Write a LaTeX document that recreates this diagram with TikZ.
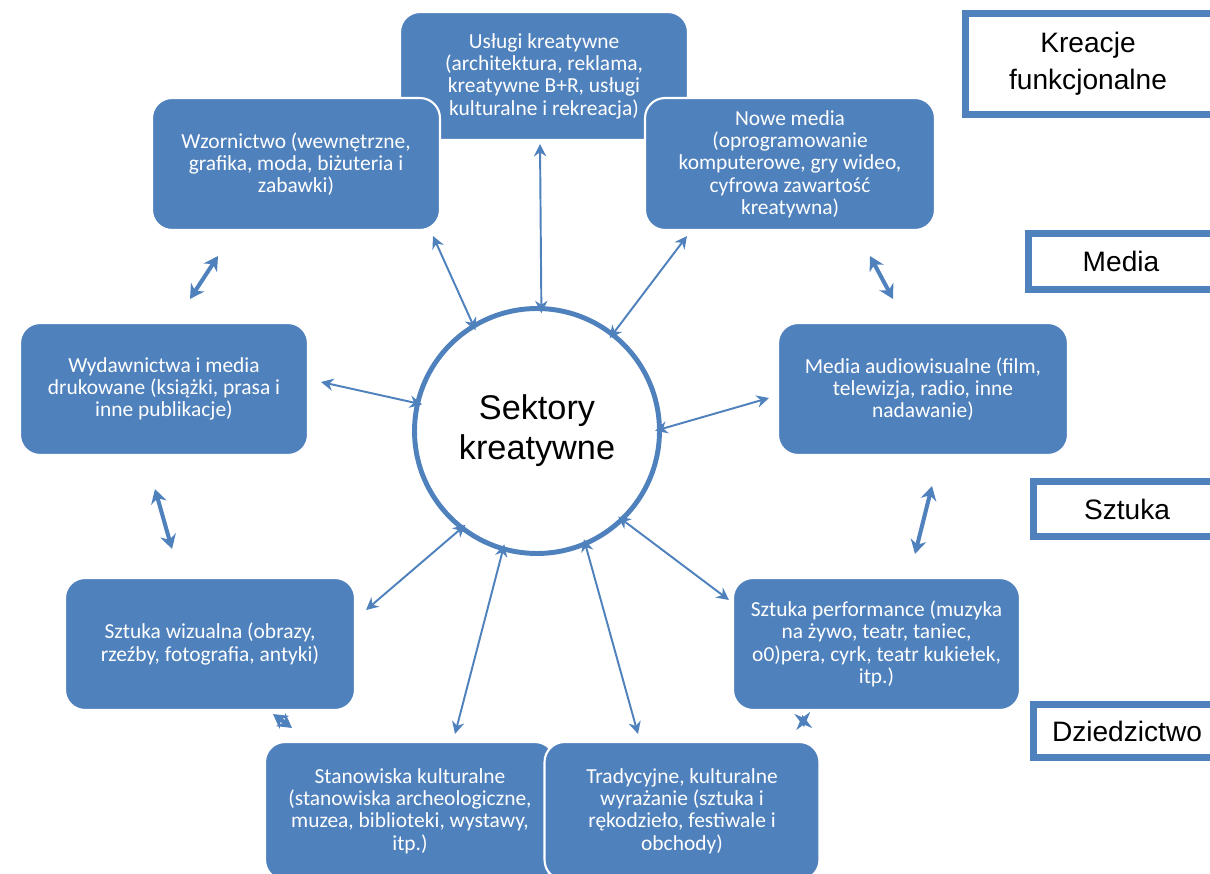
\documentclass[tikz,border=0pt]{standalone}
\usepackage{fontspec}
\setmainfont{Liberation Sans}
\newfontfamily\carlito{Carlito}
\usetikzlibrary{arrows.meta,calc}
\definecolor{boxblue}{HTML}{4F81BD}
\begin{document}
\begin{tikzpicture}[x=0.02cm,y=-0.02cm,
  bluebox/.style={rounded corners=0.4cm, fill=boxblue, draw=white, line width=1.2pt,
    text=white, align=center, inner sep=0pt,
    font=\carlito\fontsize{12.2}{12.7}\selectfont},
  labelbox/.style={draw=boxblue, fill=white, line width=3.8pt, inner sep=0pt},
  labeltext/.style={align=center, inner sep=0pt, font=\fontsize{16}{21}\selectfont},
  rarr/.style={draw=boxblue, line width=1.1pt, shorten >=-0.14cm,
    {Stealth[length=7pt,width=7pt]}-{Stealth[length=7pt,width=7pt]}},
  narr/.style={draw=boxblue, line width=2.3pt,
    {Stealth[length=8pt,width=9pt]}-{Stealth[length=8pt,width=9pt]}}]
\useasboundingbox (0,0) rectangle (1210,874);
\fill[white] (0,0) rectangle (1210,874);

% boxes
\node[bluebox, minimum width=5.76cm, minimum height=2.56cm] (usl) at (544,76)
  {Usługi kreatywne\\(architektura, reklama,\\kreatywne B+R, usługi\\kulturalne i rekreacja)};
\node[bluebox, minimum width=5.76cm, minimum height=2.64cm] (wz) at (296,164)
  {Wzornictwo (wewnętrzne,\\grafika, moda, biżuteria i\\zabawki)};
\node[bluebox, minimum width=5.8cm, minimum height=2.64cm] (nm) at (790,164)
  {Nowe media\\(oprogramowanie\\komputerowe, gry wideo,\\cyfrowa zawartość\\kreatywna)};
\node[bluebox, minimum width=5.76cm, minimum height=2.64cm] (wyd) at (164,389)
  {Wydawnictwa i media\\drukowane (książki, prasa i\\inne publikacje)};
\node[bluebox, minimum width=5.8cm, minimum height=2.64cm] (mav) at (923,389)
  {Media audiowisualne (film,\\telewizja, radio, inne\\nadawanie)};
\node[bluebox, minimum width=5.8cm, minimum height=2.64cm] (sw) at (210,644)
  {Sztuka wizualna (obrazy,\\rzeźby, fotografia, antyki)};
\node[bluebox, minimum width=5.74cm, minimum height=2.64cm] (sp) at (876.5,644)
  {Sztuka performance (muzyka\\na żywo, teatr, taniec,\\o0)pera, cyrk, teatr kukiełek,\\itp.)};
\node[bluebox, minimum width=5.8cm, minimum height=2.76cm] (st) at (410,811)
  {Stanowiska kulturalne\\(stanowiska archeologiczne,\\muzea, biblioteki, wystawy,\\itp.)};
\node[bluebox, minimum width=5.5cm, minimum height=2.76cm] (tr) at (682,811)
  {Tradycyjne, kulturalne\\wyrażanie (sztuka i\\rękodzieło, festiwale i\\obchody)};

% centre circle
\node[circle, draw=boxblue, fill=white, line width=2.8pt, minimum size=4.9cm,
  inner sep=0pt, align=center, font=\fontsize{19.5}{22.7}\selectfont] (c) at (537,431)
  {Sektory\\kreatywne};

% label boxes (right border runs off the page)
\node[labelbox, minimum width=5.29cm, minimum height=2.02cm] (kfbox) at (1097.75,64) {};
\node[labeltext] (kf) at (1088,64) {Kreacje\\funkcjonalne};
\node[labelbox, minimum width=4.03cm, minimum height=1.12cm] (lmbox) at (1129.25,261.5) {};
\node[labeltext] (lm) at (1121,261.5) {Media};
\node[labelbox, minimum width=3.93cm, minimum height=1.1cm] (lsbox) at (1131.75,509) {};
\node[labeltext] (ls) at (1127,509) {Sztuka};
\node[labelbox, minimum width=3.93cm, minimum height=1.06cm] (ldbox) at (1131.75,731) {};
\node[labeltext] (ld) at (1127,731) {Dziedzictwo};

% radial arrows
\draw[rarr] ($(usl.south)+(-4,3)$) -- (c.88);
\draw[rarr] ($(wz.south east)+(-8,5)$) -- (c.121.5);
\draw[rarr] ($(nm.south west)+(43,5)$) -- (c.52.6);
\draw[rarr] ($(wyd.east)+(12,-7)$) -- (c.167);
\draw[rarr] ($(mav.west)+(-8,9)$) -- (c.1.5);
\draw[rarr] ($(sw.east)+(10,-34)$) -- (c.232);
\draw[rarr] ($(sp.west)+(-3,-44)$) -- (c.314);
\draw[rarr] ($(st.north)+(45,-7)$) -- (c.254.6);
\draw[rarr] ($(tr.north)+(-44,-7)$) -- (c.293.4);

% neighbour arrows
\draw[narr] ($(wz.south)+(-78,25)$) -- ($(wyd.north)+(26,-23)$);
\draw[narr] ($(wyd.south)+(-9,33)$) -- ($(sw.north)+(-38,-28)$);
\draw[narr] ($(nm.south)+(80,25)$) -- ($(mav.north)+(-30,-23)$);
\draw[narr] ($(mav.south)+(9,30)$) -- ($(sp.north)+(38.5,-23)$);
\draw[narr] ($(sw.south)+(63,3)$) -- ($(st.north)+(-118,-13)$);
\draw[narr] ($(sp.south)+(-74,4)$) -- ($(tr.north)+(122,-14)$);
\end{tikzpicture}
\end{document}
